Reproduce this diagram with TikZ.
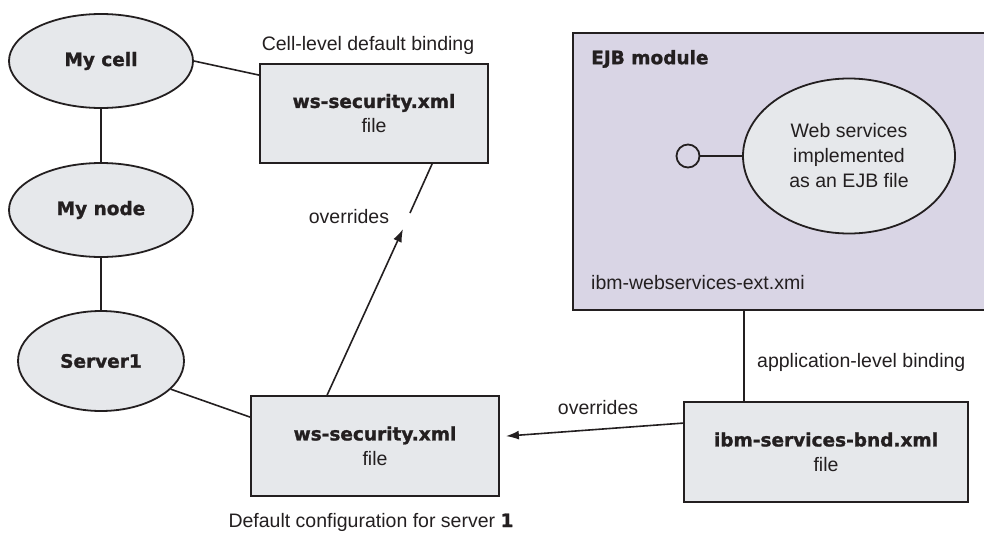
\documentclass[tikz,border=0pt]{standalone}
\usepackage{fontspec}
\setmainfont{Liberation Sans}
\newfontfamily\heavyfont{DejaVu Sans}[BoldFeatures={FakeBold=1.3}]
\newcommand\heavytxt[1]{{\heavyfont\bfseries\fontsize{18.5}{26}\selectfont #1}}
\usetikzlibrary{shapes.geometric, arrows.meta, calc}
\definecolor{ink}{HTML}{231F20}
\definecolor{boxfill}{HTML}{E6E8EB}
\definecolor{ejbfill}{HTML}{D9D5E5}
\begin{document}
\begin{tikzpicture}[x=1pt,y=-1pt,
  font=\fontsize{19.5}{25}\selectfont, text=ink,
  oval/.style={ellipse, draw=ink, line width=1.8pt, fill=boxfill, inner sep=0pt, align=center},
  filebox/.style={rectangle, draw=ink, line width=1.8pt, fill=boxfill, align=center, inner sep=0pt},
  link/.style={draw=ink, line width=1.6pt},
  arr/.style={link, -{Latex[length=13pt,width=9pt]}},
  lbl/.style={inner sep=0pt}]
\clip (0,0) rectangle (984,533);
% left column
\node[oval, minimum width=184pt, minimum height=94pt] (cell) at (101,61) {\heavytxt{My cell}};
\node[oval, minimum width=184pt, minimum height=94pt] (mynode) at (101,210) {\heavytxt{My node}};
\node[oval, minimum width=166pt, minimum height=100pt] (server) at (101,361) {\heavytxt{Server1}};
% files
\node[filebox, minimum width=228pt, minimum height=99pt] (topbox) at (374,113.5) {\heavytxt{ws-security.xml}\\file};
\node[filebox, minimum width=248pt, minimum height=100pt] (botbox) at (375,446) {\heavytxt{ws-security.xml}\\file};
\node[filebox, minimum width=284pt, minimum height=100pt] (bndbox) at (826,452) {\heavytxt{ibm-services-bnd.xml}\\file};
% EJB module
\node[draw=ink, line width=1.8pt, fill=ejbfill, minimum width=430pt, minimum height=277pt, anchor=north west, inner sep=0pt] (ejb) at (572,32) {};
\node[oval, minimum width=212pt, minimum height=155pt] (ws) at (849,156) {Web services\\implemented\\as an EJB file};
\node[circle, draw=ink, line width=1.8pt, fill=ejbfill, minimum size=23pt, inner sep=0pt] (circ) at (688,156) {};
% labels
\node[lbl] (celllbl) at (368,45) {Cell-level default binding};
\node[lbl] (ovr1) at (349,217) {overrides};
\node[lbl] (ovr2) at (598,408) {overrides};
\node[lbl, anchor=west] (applbl) at (757,362) {application-level binding};
\node[lbl, anchor=west] (ejblbl) at (591,59) {\heavytxt{EJB module}};
\node[lbl, anchor=west] (extlbl) at (591,283) {ibm-webservices-ext.xmi};
\node[lbl] (caption) at (371,522) {Default configuration for server \heavytxt{1}};
% connectors
\draw[link] (cell.south) -- (mynode.north);
\draw[link] (mynode.south) -- (server.north);
\draw[link] (cell.east) -- ($(topbox.north west)+(0,12)$);
\draw[link] (server.-22) -- ($(botbox.north west)+(0,22)$);
\draw[link] (circ) -- (ws);
\coordinate (bndtop) at ($(bndbox.north west)+(61,0)$);
\draw[link] (ejb.south -| bndtop) -- (bndtop);
\coordinate (tipA) at (403,229);
\coordinate (gapB) at (410,213);
\draw[arr] ($(botbox.north west)+(77,0)$) -- (tipA);
\draw[link] (gapB) -- ($(topbox.south west)+(173,0)$);
\draw[arr] ($(bndbox.north west)+(0,22)$) -- ($(botbox.north east)+(6,41)$);
\end{tikzpicture}
\end{document}
